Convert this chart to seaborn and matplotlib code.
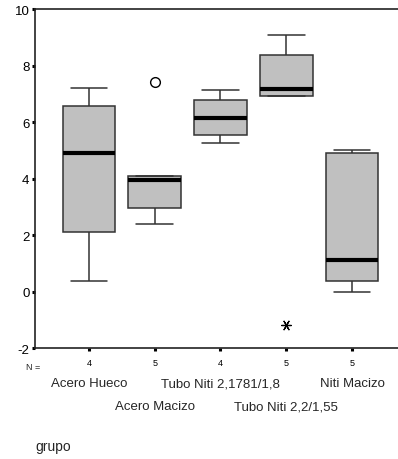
import matplotlib
matplotlib.use("Agg")
from matplotlib import pyplot as plt
import matplotlib.transforms as mtransforms
import numpy as np
import pandas as pd
import seaborn as sns

# groups and sample sizes
grupos = ["Acero Hueco", "Acero Macizo", "Tubo Niti 2,1781/1,8",
          "Tubo Niti 2,2/1,55", "Niti Macizo"]
n_labels = ["4", "5", "4", "5", "5"]

# values (min/whisker, hinges, median, max, outliers)
acero_hueco = [0.39, 2.11, 4.89, 6.57, 7.21]
acero_macizo = [2.39, 2.96, 3.96, 4.11, 7.43]
tubo_niti_1 = [5.25, 5.54, 6.14, 6.79, 7.14]
tubo_niti_2 = [-1.18, 6.93, 7.18, 8.36, 9.10]
niti_macizo = [0.00, 0.39, 1.11, 4.89, 5.00]

valores = [acero_hueco, acero_macizo, tubo_niti_1, tubo_niti_2, niti_macizo]

rows = []
for g, vals in zip(grupos, valores):
    for v in vals:
        rows.append((g, v))
df = pd.DataFrame(rows, columns=["grupo", "valor"])

# SPSS style: outliers (o) beyond 1.5 IQR, extremes (*) beyond 3 IQR
outl = []
extr = []
for g, vals in zip(grupos, valores):
    q1, q3 = np.percentile(vals, [25, 75])
    iqr = q3 - q1
    for v in vals:
        if v > q3 + 3 * iqr or v < q1 - 3 * iqr:
            extr.append((g, v))
        elif v > q3 + 1.5 * iqr or v < q1 - 1.5 * iqr:
            outl.append((g, v))
df_out = pd.DataFrame(outl, columns=["grupo", "valor"])
df_ext = pd.DataFrame(extr, columns=["grupo", "valor"])

sns.set_style("white")
plt.rcParams["font.family"] = ["Liberation Sans", "DejaVu Sans"]
plt.rcParams["axes.unicode_minus"] = False

fig = plt.figure(figsize=(3.98, 4.60), dpi=100)
ax = fig.add_axes([0.088, 0.241, 0.912, 0.737])

sns.boxplot(data=df, x="grupo", y="valor", order=grupos, width=0.8,
            showfliers=False, color="#c0c0c0", saturation=1,
            linecolor="#333333", linewidth=1.1,
            medianprops=dict(color="black", linewidth=3),
            capwidths=0.56,
            ax=ax)

sns.stripplot(data=df_out, x="grupo", y="valor", order=grupos, jitter=False,
              marker="o", s=7, color="white", edgecolor="black", linewidth=1,
              ax=ax)
sns.stripplot(data=df_ext, x="grupo", y="valor", order=grupos, jitter=False,
              marker=(6, 2, 30), s=7, color="black", edgecolor="black",
              linewidth=0.9, ax=ax)

ax.set_ylim(-2, 10)
ax.set_xlim(-0.82, 4.70)
ax.set_yticks(range(-2, 11, 2))
ax.set_xticks(range(5))
ax.set_xticklabels(n_labels, fontsize=6.5)
ax.tick_params(axis="y", labelsize=9.5, length=2, width=2.2, pad=2,
               left=True, direction="out", colors="black")
ax.tick_params(axis="x", length=2, width=2.2, pad=5, bottom=True,
               direction="out", colors="black")
ax.set_xlabel("")
ax.set_ylabel("")

for s in ["left", "top", "bottom"]:
    ax.spines[s].set_color("#222222")
    ax.spines[s].set_linewidth(1.2)
ax.spines["right"].set_visible(False)

trans = mtransforms.blended_transform_factory(ax.transData, ax.transAxes)
ax.text(-0.006, -0.055, "N =", transform=ax.transAxes, ha="center",
        va="center", fontsize=6.5)
for i, g in enumerate(grupos):
    yy = -0.103 if i % 2 == 0 else -0.171
    ax.text(i, yy, g, transform=trans, ha="center", va="center", fontsize=9.5)

fig.text(0.088, 0.028, "grupo", ha="left", va="center", fontsize=10)

plt.savefig("out.png", dpi=100)
